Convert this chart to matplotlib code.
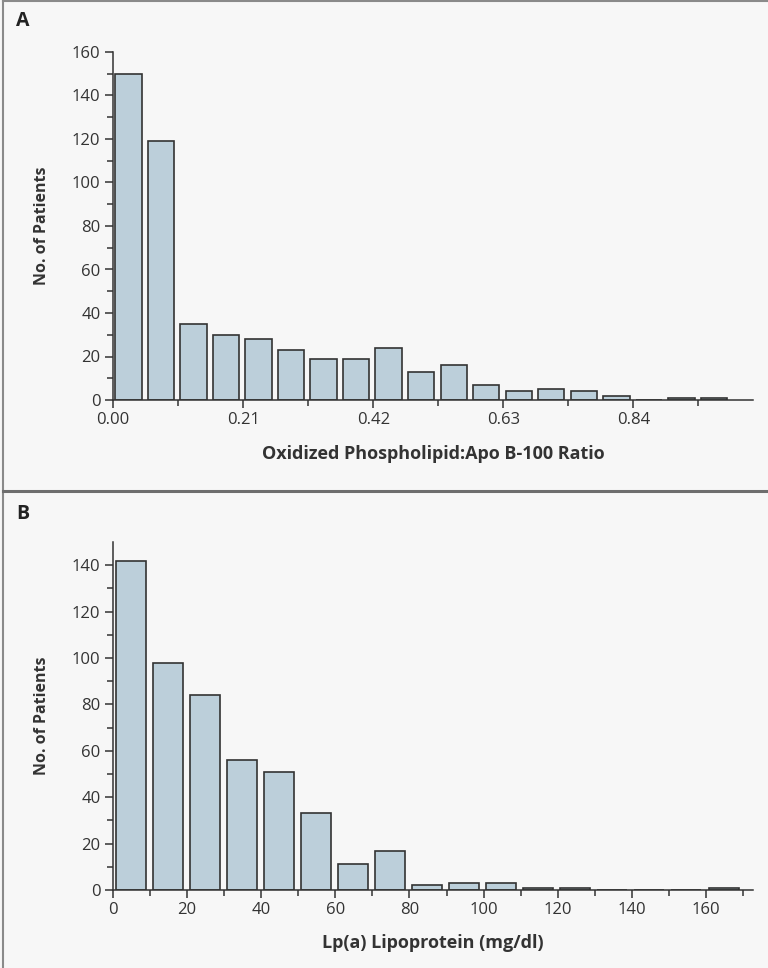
import numpy as np
import matplotlib
matplotlib.use("Agg")
import matplotlib.pyplot as plt
from matplotlib.lines import Line2D

plt.rcParams['font.family'] = ['Open Sans', 'DejaVu Sans']

# panel A: oxidized phospholipid:apo B-100 ratio, bins of 0.0525
oxpl_bin = 0.0525
oxpl_counts = [150, 119, 35, 30, 28, 23, 19, 19, 24, 13, 16, 7, 4, 5, 4, 2, 0, 1, 1]
oxpl_ticks = [0.00, 0.21, 0.42, 0.63, 0.84]

# panel B: Lp(a) lipoprotein, bins of 10 mg/dl
lpa_bin = 10
lpa_counts = [142, 98, 84, 56, 51, 33, 11, 17, 2, 3, 3, 1, 1, 0, 0, 0, 1]
lpa_ticks = [0, 20, 40, 60, 80, 100, 120, 140, 160]

BG = '#f7f7f7'
BAR = '#bccfda'
DARK = '#333333'

W, H = 768, 968
fig = plt.figure(figsize=(W / 100, H / 100), dpi=100, facecolor=BG)


def px_axes(left, top, right, bottom):
    return fig.add_axes([left / W, 1 - bottom / H, (right - left) / W, (bottom - top) / H])


def style(ax):
    ax.set_facecolor(BG)
    for s in ['top', 'right']:
        ax.spines[s].set_visible(False)
    for s in ['left', 'bottom']:
        ax.spines[s].set_color(DARK)
        ax.spines[s].set_linewidth(1.1)
    ax.tick_params(which='major', length=6, width=1.1, color=DARK,
                   labelsize=12, labelcolor=DARK, pad=3)
    ax.tick_params(which='minor', length=4, width=1.1, color=DARK)


def draw_bars(ax, counts, binw):
    edges = np.arange(len(counts)) * binw
    ax.bar(edges + 0.07 * binw, counts, width=0.81 * binw, align='edge',
           color=BAR, edgecolor=DARK, linewidth=1.2, zorder=2)


# panel A
axA = px_axes(113, 52, 753, 400)
style(axA)
draw_bars(axA, oxpl_counts, oxpl_bin)
axA.set_xlim(0, 1.033)
axA.set_ylim(0, 160)
axA.set_xticks(oxpl_ticks)
axA.set_xticklabels([f'{t:.2f}' for t in oxpl_ticks])
axA.set_xticks(np.arange(0.105, 1.0, 0.21), minor=True)
axA.set_yticks(np.arange(0, 161, 20))
axA.set_yticks(np.arange(10, 160, 20), minor=True)
axA.set_xlabel('Oxidized Phospholipid:Apo B-100 Ratio', fontsize=13,
               fontweight='bold', color=DARK, labelpad=12)
axA.set_ylabel('No. of Patients', fontsize=11.5, fontweight='bold',
               color=DARK, labelpad=16)

# panel B
axB = px_axes(113, 542, 753, 890)
style(axB)
draw_bars(axB, lpa_counts, lpa_bin)
axB.set_xlim(0, 172.7)
axB.set_ylim(0, 150)
axB.set_xticks(lpa_ticks)
axB.set_xticks(np.arange(10, 171, 20), minor=True)
axB.set_yticks(np.arange(0, 141, 20))
axB.set_yticks(np.arange(10, 150, 20), minor=True)
axB.set_xlabel('Lp(a) Lipoprotein (mg/dl)', fontsize=13,
               fontweight='bold', color=DARK, labelpad=11)
axB.set_ylabel('No. of Patients', fontsize=11.5, fontweight='bold',
               color=DARK, labelpad=16)

# panel letters
fig.text(16 / W, 1 - 21 / H, 'A', fontsize=14, fontweight='bold', color='#222222', va='center')
fig.text(16 / W, 1 - 514 / H, 'B', fontsize=14, fontweight='bold', color='#222222', va='center')

# frame and divider
frame = '#8a8a8a'
fig.add_artist(Line2D([3 / W, 3 / W], [0, 1], color=frame, lw=1.5))
fig.add_artist(Line2D([3 / W, 1], [1 - 0.5 / H, 1 - 0.5 / H], color=frame, lw=1.5))
fig.add_artist(Line2D([3 / W, 1], [1 - 491 / H, 1 - 491 / H], color='#6e6e6e', lw=2.2))

fig.savefig('out.png', dpi=100, facecolor=BG)
